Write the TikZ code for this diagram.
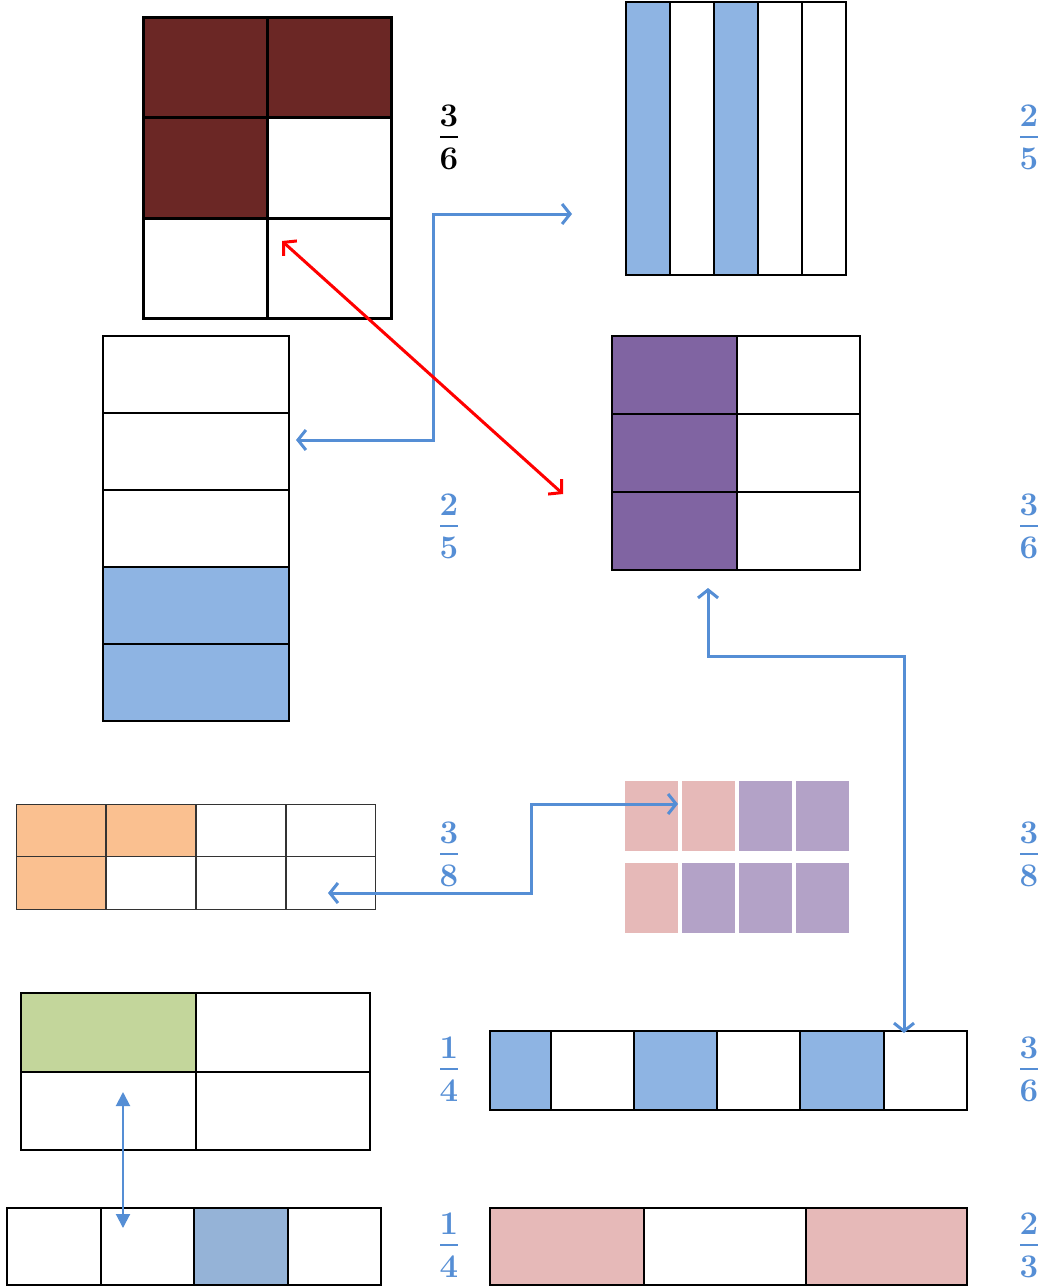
\documentclass[tikz,border=0pt]{standalone}
\usetikzlibrary{arrows.meta}
\definecolor{darkred}{HTML}{6B2725}
\definecolor{lblue}{HTML}{8EB4E3}
\definecolor{sblue}{HTML}{95B3D7}
\definecolor{purp}{HTML}{8064A2}
\definecolor{orng}{HTML}{FAC090}
\definecolor{pinkc}{HTML}{E6B9B8}
\definecolor{lpurp}{HTML}{B3A2C7}
\definecolor{grn}{HTML}{C3D69B}
\definecolor{txtblue}{HTML}{558ED5}
\definecolor{arrblue}{HTML}{558ED5}
\newcommand\fracnode[6]{%
  \node[fracdigit,text=#6] (#1n) at (#2,#3-21) {#4};
  \node[fracdigit,text=#6] (#1d) at (#2,#3+22) {#5};
  \draw[draw=#6,line width=2pt] (#2-9,#3) -- (#2+9,#3);}
\begin{document}
\begin{tikzpicture}[x=1pt,y=-1pt,
  cell/.style={draw=black,line width=#1},
  cell/.default=2pt,
  fracdigit/.style={font=\fontsize{33}{36}\selectfont\bfseries,inner sep=0pt},
  bluearrow/.style={draw=arrblue,line width=3pt,{Straight Barb[length=8pt,width=20pt,line width=3pt]}-{Straight Barb[length=8pt,width=20pt,line width=3pt]}},
  redarrow/.style={draw=red,line width=3pt,{Straight Barb[length=9pt,width=20pt,line width=3pt]}-{Straight Barb[length=9pt,width=20pt,line width=3pt]}},
  smallarrow/.style={draw=arrblue,line width=2pt,{Triangle[length=14pt,width=14pt]}-{Triangle[length=14pt,width=14pt]}},
  softcell/.style={draw=white,line width=1.5pt}
]
\useasboundingbox (0,0) rectangle (1042,1287);
\fill[white] (0,0) rectangle (1042,1287);

% --- top-left 2x3 grid (3/6) ---
\fill[darkred] (143,18) rectangle (267,118);
\fill[darkred] (267,18) rectangle (391,118);
\fill[darkred] (143,118) rectangle (267,218);
\foreach \x in {143,267} \foreach \y in {18,118,218}
  \draw[cell=3pt] (\x,\y) rectangle ++(124,100);
\fracnode{f1}{449}{137}{3}{6}{black}

% --- top-right 5 columns (2/5) ---
\fill[lblue] (626,2) rectangle (670,275);
\fill[lblue] (714,2) rectangle (758,275);
\foreach \x in {626,670,714,758,802}
  \draw[cell] (\x,2) rectangle ++(44,273);
\fracnode{f2}{1029}{137}{2}{5}{txtblue}

% --- left vertical 5 rows (2/5) ---
\fill[lblue] (103,567) rectangle (289,720);
\foreach \y in {336,413,490,567,644}
  \draw[cell] (103,\y) rectangle ++(186,76.8);
\fracnode{f3}{449}{526}{2}{5}{txtblue}

% --- purple 2x3 grid (3/6) ---
\fill[purp] (612,336) rectangle (737,570);
\foreach \x/\w in {612/125,737/123} \foreach \y in {336,414,492}
  \draw[cell] (\x,\y) rectangle ++(\w,78);
\fracnode{f4}{1029}{526}{3}{6}{txtblue}

% --- orange 4x2 grid (3/8) ---
\fill[orng] (16,804) rectangle (196,856);
\fill[orng] (16,856) rectangle (106,909);
\foreach \x in {16,106,196,286} \foreach \y/\h in {804/52,856/53}
  \draw[draw=black!80,line width=1pt] (\x,\y) rectangle ++(89.75,\h);
\fracnode{f5}{449}{854}{3}{8}{txtblue}

% --- pink/purple soft grid (3/8) ---
\foreach \x/\c in {624/pinkc,681/pinkc,738/lpurp,795/lpurp}
  \filldraw[fill=\c,softcell] (\x,780) rectangle ++(55,72);
\foreach \x/\c in {624/pinkc,681/lpurp,738/lpurp,795/lpurp}
  \filldraw[fill=\c,softcell] (\x,862) rectangle ++(55,72);
\fracnode{f6}{1029}{854}{3}{8}{txtblue}

% --- green 2x2 grid (1/4) ---
\fill[grn] (21,993) rectangle (196,1072);
\foreach \x/\w in {21/175,196/174} \foreach \y/\h in {993/79,1072/78}
  \draw[cell=2.5pt] (\x,\y) rectangle ++(\w,\h);
\fracnode{f7}{449}{1069}{1}{4}{txtblue}

% --- middle strip 6 cells (3/6) ---
\foreach \a/\b in {490/551,634/717,800/884}
  \fill[lblue] (\a,1031) rectangle (\b,1110);
\foreach \a/\b in {490/551,551/634,634/717,717/800,800/884,884/967}
  \draw[cell] (\a,1031) rectangle (\b,1110);
\fracnode{f8}{1029}{1069}{3}{6}{txtblue}

% --- bottom-left strip 4 cells (1/4) ---
\fill[sblue] (194,1208) rectangle (288,1285);
\foreach \a/\b in {7/101,101/194,194/288,288/381}
  \draw[cell] (\a,1208) rectangle (\b,1285);
\fracnode{f9}{449}{1245}{1}{4}{txtblue}

% --- bottom-right strip 3 cells (2/3) ---
\fill[pinkc] (490,1208) rectangle (644,1285);
\fill[pinkc] (806,1208) rectangle (967,1285);
\foreach \a/\b in {490/644,644/806,806/967}
  \draw[cell] (\a,1208) rectangle (\b,1285);
\fracnode{f10}{1029}{1245}{2}{3}{txtblue}

% --- connectors ---
\coordinate (a1) at (572,214);
\coordinate (a2) at (296,440);
\draw[bluearrow] (a1) -- (433,214) -- (433,440) -- (a2);

\coordinate (r1) at (282,241);
\coordinate (r2) at (563,494);
\draw[redarrow] (r1) -- (r2);

\coordinate (b1) at (708,588);
\coordinate (b2) at (904,1033);
\draw[bluearrow] (b1) -- (708,656) -- (904,656) -- (b2);

\coordinate (c1) at (328,893);
\coordinate (c2) at (678,804);
\draw[bluearrow] (c1) -- (531,893) -- (531,804) -- (c2);

\coordinate (d1) at (123,1092);
\coordinate (d2) at (123,1228);
\draw[smallarrow] (d1) -- (d2);
\end{tikzpicture}
\end{document}
